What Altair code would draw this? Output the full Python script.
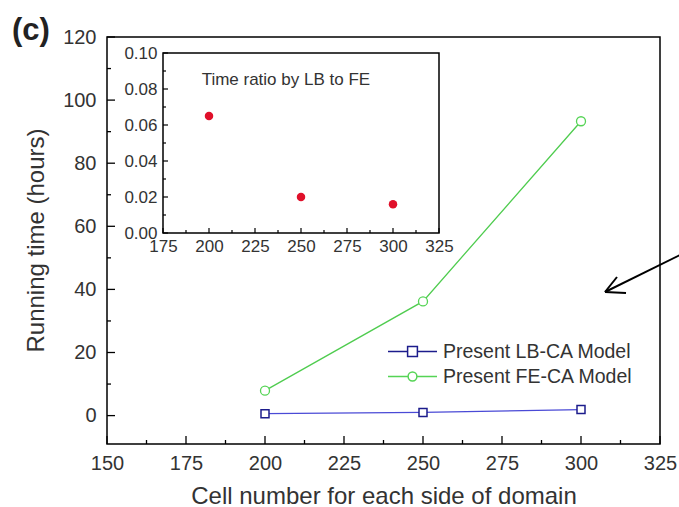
import altair as alt
import pandas as pd

# ---- data -------------------------------------------------------------
cells = [200, 250, 300]
lb_hours = [0.6, 1.0, 1.9]
fe_hours = [7.9, 36.2, 93.3]
ratio = [0.065, 0.020, 0.016]

x_major = [150, 175, 200, 225, 250, 275, 300, 325]
x_minor = [162.5, 187.5, 212.5, 237.5, 262.5, 287.5, 312.5]
y_major = [0, 20, 40, 60, 80, 100, 120]
y_minor = [10, 30, 50, 70, 90, 110]

inset_x_major = [175, 200, 225, 250, 275, 300, 325]
inset_x_minor = [187.5, 212.5, 237.5, 262.5, 287.5, 312.5]
inset_y_major = [0.0, 0.02, 0.04, 0.06, 0.08, 0.10]
inset_y_minor = [0.01, 0.03, 0.05, 0.07, 0.09]

series_lb = "Present LB-CA Model"
series_fe = "Present FE-CA Model"
inset_label = "Time ratio by LB to FE"
x_title = "Cell number for each side of domain"
y_title = "Running time (hours)"
panel_tag = "(c)"

# ---- style ------------------------------------------------------------
FONT = "Liberation Sans"
INK = "#333333"
W, H = 553, 407
LB_LINE, LB_MARK = "#4a4ad6", "#1c1c8c"
FE_LINE, FE_MARK = "#4fcc4f", "#55d455"
RED = "#e0102a"

lb_df = pd.DataFrame({"cells": cells, "hours": lb_hours, "series": series_lb})
fe_df = pd.DataFrame({"cells": cells, "hours": fe_hours, "series": series_fe})
ratio_df = pd.DataFrame({"cells": cells, "ratio": ratio})
one = pd.DataFrame({"k": [0]})

# ---- main panel -------------------------------------------------------
xs = alt.Scale(domain=[150, 325], nice=False, zero=False)
ys = alt.Scale(domain=[-9, 120], nice=False, zero=False)

x_axis = alt.Axis(values=x_major, format="d", title=x_title, ticks=False,
                  domain=False, grid=False, labelFlush=False, labelOverlap=False,
                  labelFont=FONT, labelFontSize=20, labelColor=INK, labelPadding=9,
                  titleFont=FONT, titleFontSize=24, titleColor=INK,
                  titleFontWeight="normal", titleY=52, titleBaseline="middle")
y_axis = alt.Axis(values=y_major, format="d", title=y_title, ticks=False,
                  domain=False, grid=False, labelFlush=False, labelOverlap=False,
                  labelFont=FONT, labelFontSize=20, labelColor=INK, labelPadding=11,
                  titleFont=FONT, titleFontSize=24, titleColor=INK,
                  titleFontWeight="normal", titleX=-71, titleY=203,
                  titleAngle=-90, titleBaseline="middle")

# legend sample: dash - marker - dash, in unit coordinates
SQ_PATH = ("M-1,0H-0.22M0.22,0H1"
           "M-0.2,-0.2H0.2V0.2H-0.2Z")
CI_PATH = ("M-1,0H-0.2M0.2,0H1"
           "M0.18,0A0.18,0.18 0 1,1 -0.18,0A0.18,0.18 0 1,1 0.18,0Z")


def series_legend(top, path):
    return alt.Legend(title=None, orient="none", legendX=280, legendY=top,
                      symbolType=path, symbolSize=2401, symbolStrokeWidth=1.5,
                      labelFont=FONT, labelFontSize=19.5, labelColor=INK,
                      labelOffset=5, labelLimit=0, padding=0)


def X(field, scale, axis):
    return alt.X(field, scale=scale, axis=axis)


def Y(field, scale, axis):
    return alt.Y(field, scale=scale, axis=axis)


lb_line = alt.Chart(lb_df).mark_line(color=LB_LINE, strokeWidth=1.2).encode(
    x=X("cells:Q", xs, x_axis), y=Y("hours:Q", ys, y_axis))
fe_line = alt.Chart(fe_df).mark_line(color=FE_LINE, strokeWidth=1.3).encode(
    x=X("cells:Q", xs, x_axis), y=Y("hours:Q", ys, y_axis))
lb_pts = alt.Chart(lb_df).mark_point(
    shape="square", size=64, filled=False, fill="white", strokeWidth=1.5, opacity=1
).encode(
    x=X("cells:Q", xs, x_axis), y=Y("hours:Q", ys, y_axis),
    color=alt.Color("series:N", scale=alt.Scale(domain=[series_lb], range=[LB_MARK]),
                    legend=series_legend(289, SQ_PATH)),
)
fe_pts = alt.Chart(fe_df).mark_point(
    shape="circle", size=81, filled=False, fill="white", strokeWidth=1.3, opacity=1
).encode(
    x=X("cells:Q", xs, x_axis), y=Y("hours:Q", ys, y_axis),
    color=alt.Color("series:N", scale=alt.Scale(domain=[series_fe], range=[FE_MARK]),
                    legend=series_legend(314, CI_PATH)),
)


def x_ticks(values, length, xscale, xaxis, base, yscale, yaxis, thick):
    """Inward ticks along the bottom edge, drawn through the panel's scales."""
    return alt.Chart(pd.DataFrame({"v": values})).mark_tick(
        orient="vertical", size=length, thickness=thick, color="black",
        yOffset=-length / 2, opacity=1
    ).encode(x=X("v:Q", xscale, xaxis),
             y=alt.YDatum(base, scale=yscale, axis=yaxis))


def y_ticks(values, length, yscale, yaxis, base, xscale, xaxis, thick):
    """Inward ticks along the left edge, drawn through the panel's scales."""
    return alt.Chart(pd.DataFrame({"v": values})).mark_tick(
        orient="horizontal", size=length, thickness=thick, color="black",
        xOffset=length / 2, opacity=1
    ).encode(y=Y("v:Q", yscale, yaxis),
             x=alt.XDatum(base, scale=xscale, axis=xaxis))


tag = alt.Chart(one).mark_text(
    text=panel_tag, font=FONT, fontSize=31, fontWeight="bold", color="#222222",
    align="left", baseline="alphabetic"
).encode(x=alt.value(-95), y=alt.value(3))

arrow_shaft = alt.Chart(one).mark_rule(color="black", strokeWidth=2).encode(
    x=alt.value(573), y=alt.value(218), x2=alt.value(498), y2=alt.value(255))
arrow_up = alt.Chart(one).mark_rule(color="black", strokeWidth=2).encode(
    x=alt.value(498), y=alt.value(255), x2=alt.value(510), y2=alt.value(240))
arrow_dn = alt.Chart(one).mark_rule(color="black", strokeWidth=2).encode(
    x=alt.value(498), y=alt.value(255), x2=alt.value(519), y2=alt.value(256))

main = alt.layer(
    lb_line, fe_line, lb_pts, fe_pts,
    x_ticks(x_major, 8, xs, x_axis, -9, ys, y_axis, 1.3),
    x_ticks(x_minor, 4, xs, x_axis, -9, ys, y_axis, 1.3),
    y_ticks(y_major, 8, ys, y_axis, 150, xs, x_axis, 1.3),
    y_ticks(y_minor, 4, ys, y_axis, 150, xs, x_axis, 1.3),
    tag, arrow_shaft, arrow_up, arrow_dn,
).resolve_scale(color="independent")

# ---- inset panel ------------------------------------------------------
ixs = alt.Scale(domain=[175, 325], range=[56, 332], nice=False, zero=False)
iys = alt.Scale(domain=[0, 0.1], range=[196, 16], nice=False, zero=False)

ix_axis = alt.Axis(orient="bottom", offset=-211, values=inset_x_major, format="d",
                   ticks=False, domain=False, grid=False, labelFlush=False,
                   labelOverlap=False, labelFont=FONT, labelFontSize=17,
                   labelColor=INK, labelPadding=5, title=None)
iy_axis = alt.Axis(orient="left", offset=-56, values=inset_y_major, format=".2f",
                   ticks=False, domain=False, grid=False, labelFlush=False,
                   labelOverlap=False, labelFont=FONT, labelFontSize=17,
                   labelColor=INK, labelPadding=6, title=None)

inset_box = alt.Chart(one).mark_rect(fill="white", stroke="black", strokeWidth=1.5).encode(
    x=alt.XDatum(175, scale=ixs, axis=ix_axis), x2=alt.datum(325),
    y=alt.YDatum(0, scale=iys, axis=iy_axis), y2=alt.datum(0.1),
)
ratio_pts = alt.Chart(ratio_df).mark_circle(size=72, color=RED, opacity=1).encode(
    x=X("cells:Q", ixs, ix_axis), y=Y("ratio:Q", iys, iy_axis))
inset_text = alt.Chart(one).mark_text(
    text=inset_label, font=FONT, fontSize=17, color=INK, align="left", baseline="middle"
).encode(x=alt.XDatum(196, scale=ixs, axis=ix_axis),
         y=alt.YDatum(0.085, scale=iys, axis=iy_axis))

inset = alt.layer(
    inset_box,
    x_ticks(inset_x_major, 5, ixs, ix_axis, 0, iys, iy_axis, 1.2),
    x_ticks(inset_x_minor, 3, ixs, ix_axis, 0, iys, iy_axis, 1.2),
    y_ticks(inset_y_major, 5, iys, iy_axis, 175, ixs, ix_axis, 1.2),
    y_ticks(inset_y_minor, 3, iys, iy_axis, 175, ixs, ix_axis, 1.2),
    ratio_pts, inset_text,
)

chart = alt.layer(main, inset).resolve_scale(
    x="independent", y="independent"
).properties(
    width=W, height=H,
    autosize=alt.AutoSizeParams(type="none"),
    padding={"left": 107, "top": 37, "right": 19, "bottom": 63},
    background="white",
).configure_view(stroke="black", strokeWidth=1.5)

chart.save("out.html", embed_options={"renderer": "svg", "actions": False})
